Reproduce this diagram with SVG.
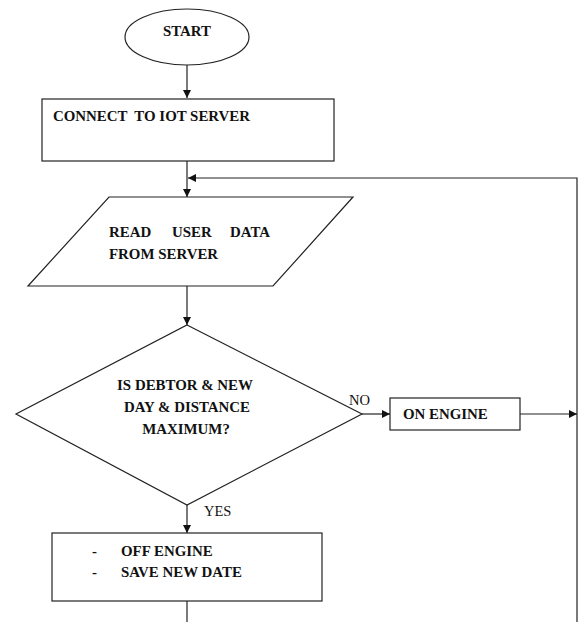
<svg xmlns="http://www.w3.org/2000/svg" width="584" height="622" viewBox="0 0 584 622">
<style>
.s{fill:#fff;stroke:#222;stroke-width:1.2}
.c{fill:none;stroke:#222;stroke-width:1.2}
.t{font-family:'Liberation Serif','Times New Roman','DejaVu Serif',serif;font-weight:bold;font-size:14.9px;fill:#111;white-space:pre}
.l{font-family:'Liberation Serif','Times New Roman','DejaVu Serif',serif;font-size:14.5px;fill:#111}
</style>
<defs>
<marker id="ah" viewBox="0 0 10 10" refX="10" refY="5" markerWidth="8" markerHeight="8" markerUnits="userSpaceOnUse" orient="auto">
<path d="M0,0 L10,5 L0,10 z" fill="#111"/>
</marker>
</defs>
<rect width="584" height="622" fill="#fff"/>
<g id="connectors">
<line class="c" x1="187" y1="65" x2="187" y2="98" marker-end="url(#ah)"/>
<line class="c" x1="187" y1="161" x2="187" y2="197" marker-end="url(#ah)"/>
<polyline class="c" points="577,622 577,178 188,178" marker-end="url(#ah)"/>
<line class="c" x1="187" y1="286" x2="187" y2="325" marker-end="url(#ah)"/>
<line class="c" x1="362" y1="414" x2="390" y2="414" marker-end="url(#ah)"/>
<line class="c" x1="520" y1="414" x2="577" y2="414" marker-end="url(#ah)"/>
<line class="c" x1="187" y1="505" x2="187" y2="533" marker-end="url(#ah)"/>
<line class="c" x1="187" y1="601" x2="187" y2="622"/>
<text class="l" x="349" y="405">NO</text>
<text class="l" x="204" y="516">YES</text>
</g>
<g id="start">
<ellipse class="s" cx="187" cy="37" rx="62" ry="28"/>
<text class="t" x="187" y="36" text-anchor="middle">START</text>
</g>
<g id="connect">
<rect class="s" x="42" y="99" width="292" height="62"/>
<text class="t" x="53" y="121" xml:space="preserve">CONNECT  TO IOT SERVER</text>
</g>
<g id="read">
<polygon class="s" points="109,197 353,197 273,286 28,286"/>
<text class="t" x="109" y="237">READ</text>
<text class="t" x="172" y="237">USER</text>
<text class="t" x="230" y="237">DATA</text>
<text class="t" x="109" y="259">FROM SERVER</text>
</g>
<g id="decision">
<polygon class="s" points="187,325 362,414 187,505 16,414"/>
<text class="t" x="185" y="390" text-anchor="middle">IS DEBTOR &amp; NEW</text>
<text class="t" x="187" y="412" text-anchor="middle">DAY &amp; DISTANCE</text>
<text class="t" x="186" y="434" text-anchor="middle">MAXIMUM?</text>
</g>
<g id="on">
<rect class="s" x="390" y="398" width="130" height="32"/>
<text class="t" x="403" y="419">ON ENGINE</text>
</g>
<g id="off">
<rect class="s" x="52" y="533" width="270" height="68"/>
<text class="t" x="92" y="556">-</text>
<text class="t" x="121" y="556">OFF ENGINE</text>
<text class="t" x="92" y="577">-</text>
<text class="t" x="121" y="577">SAVE NEW DATE</text>
</g>
</svg>
